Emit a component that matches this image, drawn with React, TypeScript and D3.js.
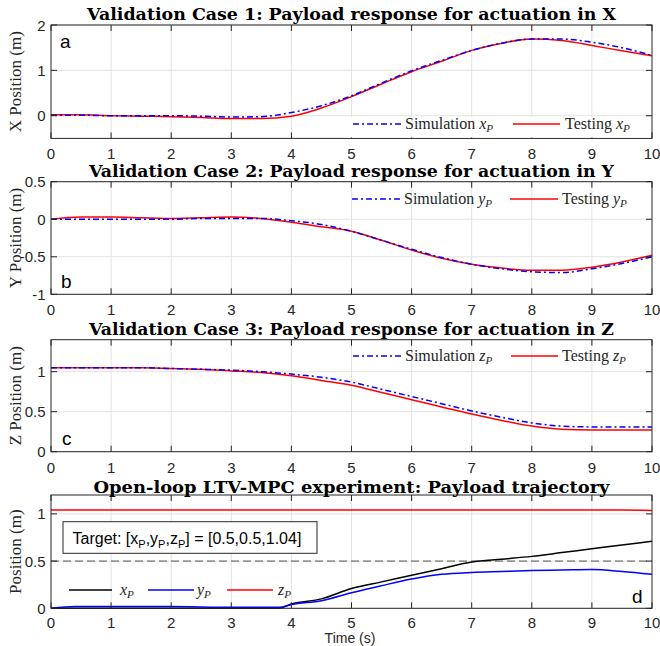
import * as d3 from "d3";

// time base for the three validation cases
const caseTime = [0, 0.5, 1, 1.5, 2, 2.5, 3, 3.5, 4, 4.5, 5, 5.5, 6, 6.5, 7, 7.5, 8, 8.5, 9, 9.5, 10];

const simX = [0.01, 0.01, 0, 0, 0, -0.01, -0.03, -0.02, 0.07, 0.22, 0.44, 0.72, 0.99, 1.22, 1.44, 1.6, 1.69, 1.69, 1.62, 1.5, 1.33];
const testX = [0.02, 0.02, 0, -0.01, -0.02, -0.04, -0.06, -0.06, -0.01, 0.17, 0.42, 0.7, 0.97, 1.2, 1.44, 1.6, 1.69, 1.66, 1.55, 1.43, 1.32];

const simY = [0, 0, 0, 0, 0, 0.01, 0.01, 0.01, -0.02, -0.07, -0.16, -0.28, -0.4, -0.51, -0.6, -0.66, -0.7, -0.71, -0.66, -0.59, -0.5];
const testY = [0, 0.03, 0.03, 0.02, 0.01, 0.02, 0.03, 0.01, -0.04, -0.1, -0.16, -0.28, -0.41, -0.52, -0.6, -0.65, -0.68, -0.68, -0.64, -0.57, -0.48];

const simZ = [1.05, 1.05, 1.05, 1.05, 1.04, 1.03, 1.02, 1.0, 0.97, 0.93, 0.87, 0.78, 0.69, 0.6, 0.51, 0.43, 0.36, 0.32, 0.31, 0.31, 0.31];
const testZ = [1.05, 1.05, 1.05, 1.05, 1.04, 1.03, 1.01, 0.99, 0.95, 0.89, 0.83, 0.74, 0.65, 0.56, 0.47, 0.39, 0.32, 0.28, 0.27, 0.27, 0.27];

// open-loop experiment
const expTime = [0, 0.4, 1, 2, 3, 3.5, 3.8, 4, 4.5, 5, 5.5, 6, 6.5, 7, 7.5, 8, 8.5, 9, 9.5, 10];
const expX = [0, 0, 0, 0, 0, 0, 0, 0.045, 0.1, 0.21, 0.28, 0.35, 0.42, 0.49, 0.52, 0.55, 0.59, 0.63, 0.67, 0.71];
const expY = [0, 0.02, 0.02, 0.02, 0.01, 0.01, 0.01, 0.04, 0.08, 0.165, 0.24, 0.31, 0.36, 0.38, 0.39, 0.4, 0.405, 0.41, 0.39, 0.36];
const expZ = [1.04, 1.04, 1.04, 1.04, 1.04, 1.04, 1.04, 1.04, 1.04, 1.04, 1.04, 1.04, 1.04, 1.04, 1.04, 1.04, 1.04, 1.04, 1.04, 1.035];
const targetLevel = 0.5;

const xTicks = [0, 1, 2, 3, 4, 5, 6, 7, 8, 9, 10];

const AX = "#262626";
const GRID = "#e3e3e3";
const SANS = "'Liberation Sans', Arial, sans-serif";
const SERIF = "'Liberation Serif', 'Times New Roman', serif";
const TITLE_FONT = "'DejaVu Serif', serif";
const DASHDOT = "6,3,2,3";

const x = d3.scaleLinear().domain([0, 10]).range([51, 652]);

type Line = { t: number[]; v: number[]; color: string; dash?: string };

function sub(label: string, s: string, size = 16) {
  return (
    <>
      <tspan fontStyle="italic">{label}</tspan>
      <tspan fontStyle="italic" fontSize={size * 0.7} dy={3}>{s}</tspan>
    </>
  );
}

function Panel(props: {
  top: number; bottom: number; dom: [number, number]; yTicks: number[];
  title: string; titleY: number; titleW: number; yLabel: string; tickOff?: number;
  lines: Line[]; children?: (y: d3.ScaleLinear<number, number>) => any;
}) {
  const { top, bottom, dom, yTicks, title, titleY, titleW, yLabel, lines, children } = props;
  const tickOff = props.tickOff ?? 21;
  const y = d3.scaleLinear().domain(dom).range([bottom, top]);
  const line = d3.line<[number, number]>().x(d => x(d[0])).y(d => y(d[1])).curve(d3.curveMonotoneX);
  const L = x.range()[0], R = x.range()[1];
  const tk = 6;
  return (
    <g>
      {xTicks.slice(1, -1).map(t => (
        <line key={"gx" + t} x1={x(t)} x2={x(t)} y1={top} y2={bottom} stroke={GRID} />
      ))}
      {yTicks.map(v => (
        <line key={"gy" + v} x1={L} x2={R} y1={y(v)} y2={y(v)} stroke={GRID} />
      ))}
      {children && children(y)}
      {lines.map((l, i) => (
        <path key={i} d={line(l.t.map((t, j) => [t, l.v[j]] as [number, number])) || ""}
          fill="none" stroke={l.color} strokeWidth={1.5} strokeDasharray={l.dash} />
      ))}
      <rect x={L} y={top} width={R - L} height={bottom - top} fill="none" stroke={AX} strokeWidth={1} />
      {xTicks.map(t => (
        <g key={"tx" + t}>
          <line x1={x(t)} x2={x(t)} y1={bottom} y2={bottom - tk} stroke={AX} />
          <line x1={x(t)} x2={x(t)} y1={top} y2={top + tk} stroke={AX} />
          <text x={x(t)} y={bottom + tickOff} textAnchor="middle" fontFamily={SANS} fontSize={15} fill={AX}>{t}</text>
        </g>
      ))}
      {yTicks.map(v => (
        <g key={"ty" + v}>
          <line x1={L} x2={L + tk} y1={y(v)} y2={y(v)} stroke={AX} />
          <line x1={R} x2={R - tk} y1={y(v)} y2={y(v)} stroke={AX} />
          <text x={45.5} y={y(v) + 5.5} textAnchor="end" fontFamily={SANS} fontSize={15} fill={AX}>{v}</text>
        </g>
      ))}
      <text x={(L + R) / 2} y={titleY} textAnchor="middle" fontFamily={TITLE_FONT} fontWeight="bold"
        fontSize={16.5} textLength={titleW} lengthAdjust="spacingAndGlyphs" fill="#000">{title}</text>
      <text transform={`translate(21,${(top + bottom) / 2}) rotate(-90)`} textAnchor="middle"
        fontFamily={SERIF} fontSize={17} fill={AX}>{yLabel}</text>
    </g>
  );
}

function Legend(props: { y: number; items: { x0: number; x1: number; tx: number; color: string; dash?: string; label: any }[] }) {
  return (
    <g>
      {props.items.map((it, i) => (
        <g key={i}>
          <line x1={it.x0} x2={it.x1} y1={props.y} y2={props.y} stroke={it.color} strokeWidth={1.5} strokeDasharray={it.dash} />
          <text x={it.tx} y={props.y + 5} fontFamily={SERIF} fontSize={16} fill={AX}>{it.label}</text>
        </g>
      ))}
    </g>
  );
}

function Letter({ px, py, s }: { px: number; py: number; s: string }) {
  return <text x={px} y={py} fontFamily={SANS} fontSize={19} fill="#000">{s}</text>;
}

export default function App() {
  return (
    <svg width={660} height={646} style={{ position: "absolute", left: 0, top: 0, background: "#fff" }}>
      <rect width={660} height={646} fill="#fff" />

      <Panel top={25} bottom={138.4} dom={[-0.5, 2]} yTicks={[0, 1, 2]} yLabel="X Position (m)"
        title="Validation Case 1: Payload response for actuation in X" titleY={20} titleW={529}
        lines={[
          { t: caseTime, v: testX, color: "#ff0000" },
          { t: caseTime, v: simX, color: "#0000ff", dash: DASHDOT },
        ]} />
      <rect x={345} y={117} width={306} height={20.5} fill="#fff" />
      <Legend y={124} items={[
        { x0: 353, x1: 402, tx: 405, color: "#0000ff", dash: DASHDOT, label: <>Simulation {sub("x", "P")}</> },
        { x0: 513, x1: 560, tx: 565, color: "#ff0000", label: <>Testing {sub("x", "P")}</> },
      ]} />
      <Letter px={60} py={48} s="a" />

      <Panel top={181.7} bottom={294.3} dom={[-1, 0.5]} yTicks={[-1, -0.5, 0, 0.5]} yLabel="Y Position (m)"
        title="Validation Case 2: Payload response for actuation in Y" titleY={176.5} titleW={525}
        lines={[
          { t: caseTime, v: testY, color: "#ff0000" },
          { t: caseTime, v: simY, color: "#0000ff", dash: DASHDOT },
        ]} />
      <Legend y={199} items={[
        { x0: 352, x1: 400, tx: 404, color: "#0000ff", dash: DASHDOT, label: <>Simulation {sub("y", "P")}</> },
        { x0: 510, x1: 558, tx: 562, color: "#ff0000", label: <>Testing {sub("y", "P")}</> },
      ]} />
      <Letter px={61} py={288} s="b" />

      <Panel top={339.7} bottom={451.7} dom={[0, 1.4]} yTicks={[0, 0.5, 1]} yLabel="Z Position (m)"
        title="Validation Case 3: Payload response for actuation in Z" titleY={335} titleW={525}
        lines={[
          { t: caseTime, v: testZ, color: "#ff0000" },
          { t: caseTime, v: simZ, color: "#0000ff", dash: DASHDOT },
        ]} />
      <Legend y={356} items={[
        { x0: 353, x1: 401, tx: 405, color: "#0000ff", dash: DASHDOT, label: <>Simulation {sub("z", "P")}</> },
        { x0: 511, x1: 558, tx: 562, color: "#ff0000", label: <>Testing {sub("z", "P")}</> },
      ]} />
      <Letter px={62} py={445} s="c" />

      <Panel top={495} bottom={608.3} dom={[0, 1.2]} yTicks={[0, 0.5, 1]} yLabel="Position (m)" tickOff={19.5}
        title="Open-loop LTV-MPC experiment: Payload trajectory" titleY={492.5} titleW={516}
        lines={[
          { t: expTime, v: expX, color: "#000000" },
          { t: expTime, v: expY, color: "#0000ff" },
          { t: expTime, v: expZ, color: "#ff0000" },
        ]}>
        {(y) => (
          <line x1={x(0)} x2={x(10)} y1={y(targetLevel)} y2={y(targetLevel)} stroke="#555" strokeDasharray="8,4" />
        )}
      </Panel>
      <rect x={63} y={521.7} width={254} height={31.6} fill="#fff" stroke={AX} />
      <text x={72.5} y={544} fontFamily={SANS} fontSize={16} fill="#000">
        Target: [x<tspan fontSize={11} dy={4}>P</tspan><tspan dy={-4}>,y</tspan><tspan fontSize={11} dy={4}>P</tspan><tspan dy={-4}>,z</tspan><tspan fontSize={11} dy={4}>P</tspan><tspan dy={-4}>] = [0.5,0.5,1.04]</tspan>
      </text>
      <Legend y={590} items={[
        { x0: 69, x1: 112, tx: 120, color: "#000000", label: sub("x", "P") },
        { x0: 148, x1: 194, tx: 197, color: "#0000ff", label: sub("y", "P") },
        { x0: 227, x1: 273, tx: 278, color: "#ff0000", label: sub("z", "P") },
      ]} />
      <Letter px={632} py={603} s="d" />
      <text x={350} y={642.5} textAnchor="middle" fontFamily={SANS} fontSize={14} fill={AX}>Time (s)</text>
    </svg>
  );
}
